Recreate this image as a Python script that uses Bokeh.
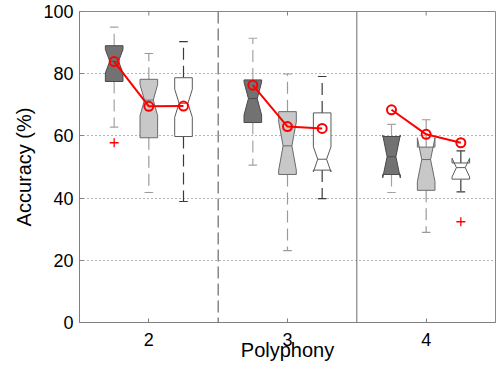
from bokeh.plotting import figure
from bokeh.models import Range1d, FixedTicker, Span
from bokeh.embed import file_html
from bokeh.resources import INLINE

# ---------------- data ----------------
polyphony = [2, 3, 4]
conditions = ["A", "B", "C"]            # three box variants per polyphony level
# box statistics, order: (2,A) (2,B) (2,C) (3,A) (3,B) (3,C) (4,A) (4,B) (4,C)
q3 = [89.0, 78.2, 78.7, 78.0, 67.8, 67.4, 59.8, 56.4, 51.3]
median = [84.0, 71.5, 70.5, 72.0, 56.8, 52.5, 53.3, 52.4, 49.8]
q1 = [77.5, 59.4, 59.8, 64.3, 47.6, 49.0, 47.6, 42.5, 46.1]
notch_hi = [87.8, 76.5, 75.0, 77.3, 64.5, 56.5, 60.3, 59.4, 52.8]
notch_lo = [80.2, 66.5, 66.0, 66.7, 49.0, 48.4, 46.5, 45.3, 46.8]
whisker_hi = [95.0, 86.5, 90.3, 91.4, 79.9, 79.1, 63.7, 65.2, 55.2]
whisker_lo = [62.8, 41.8, 38.9, 50.6, 23.1, 39.8, 41.8, 29.0, 42.0]
# outliers
outlier_poly = [2, 4]
outlier_cond = [0, 2]
outlier_val = [57.8, 32.4]
# red line (overall accuracy per condition)
red_vals = [83.9, 69.5, 69.6, 76.3, 63.0, 62.4, 68.4, 60.5, 57.8]

y_ticks = [0, 20, 40, 60, 80, 100]

# ---------------- styles ----------------
offsets = [-0.25, 0.0, 0.25]
box_w = 0.127
cap_w = 0.062
fills = ["#727272", "#c8c8c8", "#ffffff"]
outlines = ["#4a4a4a", "#6a6a6a", "#5a5a5a"]
whisk_cols = ["#a3a3a3", "#9a9a9a", "#3a3a3a"]
FONT = "Liberation Sans"
Y_MIN, Y_MAX = 0, 100

p = figure(width=498, height=370, x_range=Range1d(1.5, 4.5), y_range=Range1d(Y_MIN, Y_MAX),
           output_backend="svg", toolbar_location=None,
           min_border_left=79, min_border_right=3, min_border_top=11, min_border_bottom=48)
p.xgrid.visible = False
p.ygrid.ticker = FixedTicker(ticks=y_ticks)
p.ygrid.grid_line_color = "#6a6a6a"
p.ygrid.grid_line_dash = "1 3"
p.ygrid.grid_line_width = 1
p.outline_line_color = "#8a8a8a"
p.outline_line_width = 1
p.background_fill_color = "white"
p.border_fill_color = "white"

xa = p.xaxis[0]
xa.ticker = FixedTicker(ticks=polyphony)
xa.axis_label = "Polyphony"
xa.axis_label_text_font = FONT
xa.axis_label_text_font_size = "20px"
xa.axis_label_text_font_style = "normal"
xa.axis_label_text_color = "black"
xa.axis_label_standoff = -10
xa.major_label_text_font = FONT
xa.major_label_text_font_size = "18px"
xa.major_label_text_color = "black"
xa.major_label_standoff = 10
xa.major_tick_in = 4
xa.major_tick_out = 0
xa.minor_tick_line_color = None
xa.axis_line_color = "#808080"
xa.major_tick_line_color = "#808080"

ya = p.yaxis[0]
ya.ticker = FixedTicker(ticks=y_ticks)
ya.axis_label = "Accuracy (%)"
ya.axis_label_text_font = FONT
ya.axis_label_text_font_size = "20px"
ya.axis_label_text_font_style = "normal"
ya.axis_label_text_color = "black"
ya.axis_label_standoff = 5
ya.major_label_text_font = FONT
ya.major_label_text_font_size = "18px"
ya.major_label_text_color = "black"
ya.major_label_standoff = 6
ya.major_tick_in = 4
ya.major_tick_out = 0
ya.minor_tick_line_color = None
ya.axis_line_color = "#808080"
ya.major_tick_line_color = "#808080"

# inward ticks on the top edge (box on)
tick_len = 1.3
p.segment(x0=polyphony, y0=[Y_MAX] * len(polyphony), x1=polyphony,
          y1=[Y_MAX - tick_len] * len(polyphony), line_color="#808080", line_width=1)

# separators between polyphony groups
p.add_layout(Span(location=2.5, dimension="height", line_color="#4a4a4a",
                  line_dash="12 5", line_width=1))
p.add_layout(Span(location=3.5, dimension="height", line_color="#6a6a6a", line_width=1))

# ---------------- boxes ----------------
for i in range(len(q3)):
    g = polyphony[i // 3]
    k = i % 3
    x = g + offsets[k]
    L, R = x - box_w / 2, x + box_w / 2
    ins = box_w / 4
    # whiskers
    p.segment(x0=[x, x], y0=[q3[i], q1[i]], x1=[x, x], y1=[whisker_hi[i], whisker_lo[i]],
              line_color=whisk_cols[k], line_dash="12 6", line_width=1.2)
    p.segment(x0=[x - cap_w / 2, x - cap_w / 2], y0=[whisker_hi[i], whisker_lo[i]],
              x1=[x + cap_w / 2, x + cap_w / 2], y1=[whisker_hi[i], whisker_lo[i]],
              line_color=whisk_cols[k], line_width=1.2)
    xs = [L, L, L + ins, L, L, R, R, R - ins, R, R]
    ys = [q1[i], notch_lo[i], median[i], notch_hi[i], q3[i], q3[i], notch_hi[i], median[i],
          notch_lo[i], q1[i]]
    p.patch(xs, ys, fill_color=fills[k], line_color=outlines[k], line_width=1)
    p.segment(x0=[L + ins], y0=[median[i]], x1=[R - ins], y1=[median[i]],
              line_color=outlines[k], line_width=1)

# outliers
ox = [outlier_poly[j] + offsets[outlier_cond[j]] for j in range(len(outlier_val))]
p.scatter(ox, outlier_val, marker="cross", size=9, line_color="#ff0000", line_width=1.3)

# red line per polyphony group
for gi, g in enumerate(polyphony):
    xs = [g + o for o in offsets]
    ys = red_vals[gi * 3: gi * 3 + 3]
    p.line(xs, ys, line_color="#ff0000", line_width=2)
    p.scatter(xs, ys, marker="circle", size=9, fill_color=None,
              line_color="#ff0000", line_width=2)

open("out.html", "w").write(file_html(p, INLINE))
